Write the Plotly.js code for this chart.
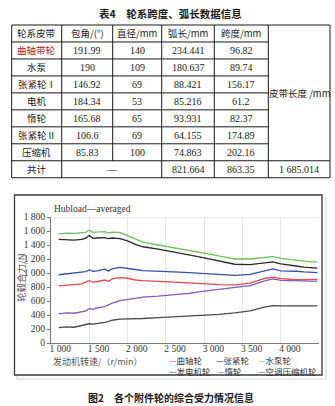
<!DOCTYPE html>
<html>
<head>
<meta charset="utf-8">
<script src="https://cdn.plot.ly/plotly-3.0.1.min.js"></script>
<style>html,body{margin:0;padding:0;background:#fff;}#chart{width:335px;height:406px;}</style>
</head>
<body>
<div id="chart"></div>
<script>
// ---------- Table data (表4) ----------
const tableTitle = '表4　轮系跨度、弧长数据信息';
const tableHeader = ['轮系皮带', '包角/(°)', '直径/mm', '弧长/mm', '跨度/mm'];
const wheelNames = ['曲轴带轮', '水泵', '张紧轮Ⅰ', '电机', '惰轮', '张紧轮Ⅱ', '压缩机'];
const wrapAngle = ['191.99', '190', '146.92', '184.34', '165.68', '106.6', '85.83'];
const diameter = ['140', '109', '69', '53', '65', '69', '100'];
const arcLength = ['234.441', '180.637', '88.421', '85.216', '93.931', '64.155', '74.863'];
const spanLength = ['96.82', '89.74', '156.17', '61.2', '82.37', '174.89', '202.16'];
const totalLabel = '共计';
const totalArc = '821.664';
const totalSpan = '863.35';
const beltLengthLabel = '皮带长度 /mm';
const beltLength = '1 685.014';

// ---------- Chart data (图2) ----------
const chartCaption = '图2　各个附件轮的综合受力情况信息';
const chartNote = 'Hubload—averaged';
const xTitle = '发动机转速/（r/min）';
const yTitle = '轮毂合力/N';
const rpm = [1100,1200,1300,1400,1450,1500,1550,1600,1700,1750,1800,1900,2000,2100,2200,2400,2600,2800,3000,3200,3400,3600,3800,3900,4000,4100,4200,4300,4400,4480];
const crank   = [815,825,830,845,870,890,870,875,900,880,915,935,925,900,890,885,870,860,845,835,830,855,925,940,920,910,905,905,910,910];
const tensioner = [1480,1475,1470,1480,1495,1535,1495,1500,1505,1490,1500,1490,1460,1410,1375,1340,1305,1260,1215,1175,1125,1120,1150,1160,1130,1110,1100,1085,1075,1070];
const waterPump = [1555,1570,1565,1575,1580,1610,1580,1585,1590,1570,1585,1580,1530,1480,1440,1400,1365,1330,1285,1240,1200,1200,1225,1235,1210,1195,1180,1170,1160,1160];
const alternator = [975,985,995,1005,1020,1045,1025,1030,1055,1030,1060,1080,1070,1050,1035,1020,1015,1005,995,980,965,980,1040,1060,1030,1030,1025,1015,1005,1005];
const idler = [415,430,425,440,455,490,480,500,520,545,570,605,625,640,655,670,685,710,740,765,790,820,890,915,895,890,885,885,885,885];
const acCompressor = [220,230,225,250,270,275,270,275,295,305,325,340,340,345,350,362,372,382,395,410,430,460,515,535,530,530,535,530,530,530];
const seriesNames = ['曲轴轮', '张紧轮', '水泵轮', '发电机轮', '惰轮', '空调压缩机轮'];
const seriesValues = [crank, tensioner, waterPump, alternator, idler, acCompressor];
const seriesColors = ['#e8474d', '#2a2a2a', '#6cc35a', '#3b4ea6', '#7f5bb8', '#4a4a4a'];
const xTickVals = [1000,1500,2000,2500,3000,3500,4000];
const xTickText = ['1 000','1 500','2 000','2 500','3 000','3 500','4 000'];
const yTickVals = [0,200,400,600,800,1000,1200,1400,1600,1800];
const yTickText = ['0','200','400','600','800','1 000','1 200','1 400','1 600','1 800'];

// ---------- helpers ----------
const W = 335, H = 406;
const px = x => x / W;
const py = y => 1 - y / H;
const CJK = '"Noto Sans CJK SC", sans-serif';
const SERIF = '"Liberation Serif", "Times New Roman", serif';

const shapes = [];
const annotations = [];
function hline(x0, x1, y, color, w) {
  shapes.push({type:'line', xref:'paper', yref:'paper', x0:px(x0), x1:px(x1), y0:py(y), y1:py(y), line:{color:color||'#1a1a1a', width:w||1}});
}
function vline(x, y0, y1, color, w) {
  shapes.push({type:'line', xref:'paper', yref:'paper', x0:px(x), x1:px(x), y0:py(y0), y1:py(y1), line:{color:color||'#1a1a1a', width:w||1}});
}
function text(t, x, y, opts) {
  opts = opts || {};
  annotations.push({xref:'paper', yref:'paper', x:px(x), y:py(y), text:t, showarrow:false,
    xanchor:opts.xanchor||'center', yanchor:'middle', textangle:opts.angle||0,
    borderpad:0,
    font:{family:opts.family||CJK, size:opts.size||9.5, color:opts.color||'#1a1a1a', weight:opts.weight||'normal'}});
}

// ---------- table ----------
const cols = [11.7, 61.7, 112.7, 161.7, 214.3, 268.3, 330];
const tTop = 25, rh = 16.97, nRows = 9;
const rowY = i => tTop + rh * i;
const tBottom = rowY(nRows);
text(tableTitle, 170, 13, {size:10.5, weight:'bold'});
hline(cols[0], cols[6], tTop);
hline(cols[0], cols[6], tBottom);
hline(cols[0], cols[6], rowY(8));
for (let i = 1; i < 8; i++) hline(cols[0], cols[5], rowY(i));
[0,1,3,4,5,6].forEach(c => vline(cols[c], tTop, tBottom));
vline(cols[2], tTop, rowY(8));
const colC = c => (cols[c] + cols[c+1]) / 2;
const rowC = i => tTop + rh * (i + 0.5);
tableHeader.forEach((h, c) => text(h, colC(c), rowC(0), {size:9.5}));
wheelNames.forEach((n, r) => {
  text(n, colC(0), rowC(r+1), {size:9.5, color: r === 0 ? '#a3262a' : '#1a1a1a'});
  text(wrapAngle[r], colC(1), rowC(r+1), {family:SERIF, size:10});
  text(diameter[r], colC(2), rowC(r+1), {family:SERIF, size:10});
  text(arcLength[r], colC(3), rowC(r+1), {family:SERIF, size:10});
  text(spanLength[r], colC(4), rowC(r+1), {family:SERIF, size:10});
});
text(totalLabel, colC(0), rowC(8), {size:9.5});
text('—', (cols[1]+cols[3])/2, rowC(8), {family:SERIF, size:10});
text(totalArc, colC(3), rowC(8), {family:SERIF, size:10});
text(totalSpan, colC(4), rowC(8), {family:SERIF, size:10});
text(beltLength, colC(5), rowC(8), {family:SERIF, size:10});
text(beltLengthLabel, colC(5), (tTop + rowY(8)) / 2, {size:9.5});

// ---------- chart frame ----------
shapes.push({type:'rect', xref:'paper', yref:'paper', x0:px(17), x1:px(326), y0:py(379), y1:py(198), line:{color:'#e2e2e2', width:1.5}, layer:'below'});
shapes.push({type:'rect', xref:'paper', yref:'paper', x0:px(14.5), x1:px(322), y0:py(375), y1:py(195), fillcolor:'#fff', line:{color:'#3a3a3a', width:1.3}, layer:'below'});
shapes.push({type:'line', xref:'x', yref:'y', x0:1000, x1:4500, y0:1800, y1:1800, line:{color:'#dcdcdc', width:1}, layer:'below'});

text(chartNote, 53, 209, {family:SERIF, size:9.5, xanchor:'left', color:'#333'});
text(xTitle, 52, 361.5, {size:9, xanchor:'left', color:'#555'});
text(yTitle, 21, 278, {size:9.5, color:'#555', angle:-90});
text(chartCaption, 171, 397, {size:10, weight:'bold'});

// legend (two rows, three per row)
const legendPos = [[168,359.5],[215,359.5],[257,359.5],[168,370.5],[216.5,370.5],[257,370.5]];
seriesNames.forEach((n, i) => {
  annotations.push({xref:'paper', yref:'paper', x:px(legendPos[i][0]), y:py(legendPos[i][1]),
    text:'<span style="color:' + seriesColors[i] + '">—</span>' + n, showarrow:false, borderpad:0,
    xanchor:'left', yanchor:'middle', font:{family:CJK, size:8.5, color:'#333'}});
});

const traces = seriesNames.map((n, i) => ({
  type:'scatter', mode:'lines', name:n, x:rpm, y:seriesValues[i],
  line:{color:seriesColors[i], width:1.3}, showlegend:false, hoverinfo:'skip'
}));

const layout = {
  width:W, height:H, margin:{l:0,r:0,t:0,b:0},
  paper_bgcolor:'#fff', plot_bgcolor:'rgba(0,0,0,0)',
  showlegend:false,
  xaxis:{domain:[px(51), px(319)], range:[1000,4500], tickvals:xTickVals, ticktext:xTickText,
    ticklabelposition:'outside right', ticklabelstandoff:-3, ticklabelshift:-2, ticks:'', showline:true, linecolor:'#777', linewidth:1,
    showgrid:true, gridcolor:'#e6e6e6', gridwidth:1, zeroline:false,
    tickfont:{family:SERIF, size:9.5, color:'#333'}},
  yaxis:{domain:[py(343), py(217)], range:[0,1800], tickvals:yTickVals, ticktext:yTickText,
    ticks:'outside', ticklen:3, tickcolor:'#777', showline:true, linecolor:'#777', linewidth:1,
    showgrid:false, zeroline:false, tickfont:{family:SERIF, size:9.5, color:'#333'}},
  shapes:shapes, annotations:annotations
};
Plotly.newPlot('chart', traces, layout, {staticPlot:true, displayModeBar:false});
</script>
</body>
</html>
